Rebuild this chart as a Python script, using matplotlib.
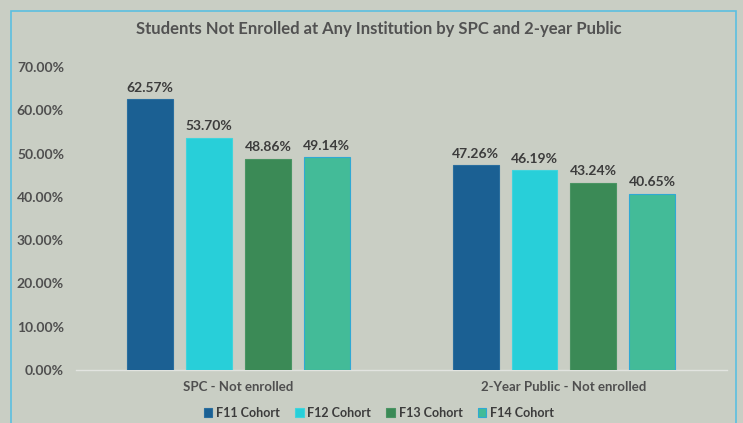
import matplotlib
matplotlib.use("Agg")
import matplotlib.pyplot as plt
import numpy as np
from matplotlib.patches import Rectangle

categories = ["SPC - Not enrolled", "2-Year Public - Not enrolled"]
series = ["F11 Cohort", "F12 Cohort", "F13 Cohort", "F14 Cohort"]
f11 = [62.57, 47.26]
f12 = [53.70, 46.19]
f13 = [48.86, 43.24]
f14 = [49.14, 40.65]
values = [f11, f12, f13, f14]
yticks = [0, 10, 20, 30, 40, 50, 60, 70]

colors = ["#1B6093", "#28CFD9", "#3B8A56", "#43BB98"]
edges = ["#2A6E9E", "#40D4DC", "#4A9463", "#2FA9D4"]

plt.rcParams['font.family'] = ['Lato', 'DejaVu Sans']

bg = "#C9CEC4"
fig = plt.figure(figsize=(7.43, 4.23), dpi=100, facecolor=bg)
ax = fig.add_axes([0.102, 0.1253, 0.876, 0.7163])
ax.set_facecolor("none")

x = np.arange(len(categories))
w = 0.141
step = 0.181
for i, (vals, c, ec) in enumerate(zip(values, colors, edges)):
    off = (i - 1.5) * step
    bars = ax.bar(x + off, vals, width=w, color=c, edgecolor=ec, linewidth=0.8,
                  label=series[i], zorder=3)
    for b, v in zip(bars, vals):
        ax.annotate(f"{v:.2f}%", (b.get_x() + b.get_width() / 2, v),
                    xytext=(0, 4), textcoords="offset points",
                    ha="center", va="bottom", fontsize=10, fontweight="bold",
                    color="#3C3C3C")

ax.set_xlim(-0.5, 1.5)
ax.set_ylim(0, 70)
ax.set_yticks(yticks)
ax.set_yticklabels([f"{t:.2f}%" for t in yticks], fontsize=10, fontweight="bold",
                   color="#4F4F4F")
ax.set_xticks(x)
ax.set_xticklabels(categories, fontsize=9.5, fontweight="bold", color="#4F4F4F")
ax.tick_params(axis="both", length=0)
ax.tick_params(axis="x", pad=8)
ax.tick_params(axis="y", pad=8.5)
for s in ["top", "right", "left"]:
    ax.spines[s].set_visible(False)
ax.spines["bottom"].set_color("#E2E4E0")
ax.spines["bottom"].set_linewidth(1.0)

fig.text(0.51, 0.932, "Students Not Enrolled at Any Institution by SPC and 2-year Public",
         ha="center", va="center", fontsize=12, fontweight="bold", color="#525252")

leg = fig.legend(loc="center", bbox_to_anchor=(0.51, 0.024), ncol=4, frameon=False,
                 fontsize=9, handlelength=0.7, handleheight=0.7, handletextpad=0.3,
                 columnspacing=1.2)
for t in leg.get_texts():
    t.set_fontweight("bold")
    t.set_color("#3C3C3C")

fig.patches.append(Rectangle((11 / 743, -0.05), 725 / 743, 1 - 11 / 423 + 0.05,
                             transform=fig.transFigure, fill=False,
                             edgecolor="#5BBFE0", linewidth=1.2))

fig.savefig("out.png", dpi=100, facecolor=bg)
